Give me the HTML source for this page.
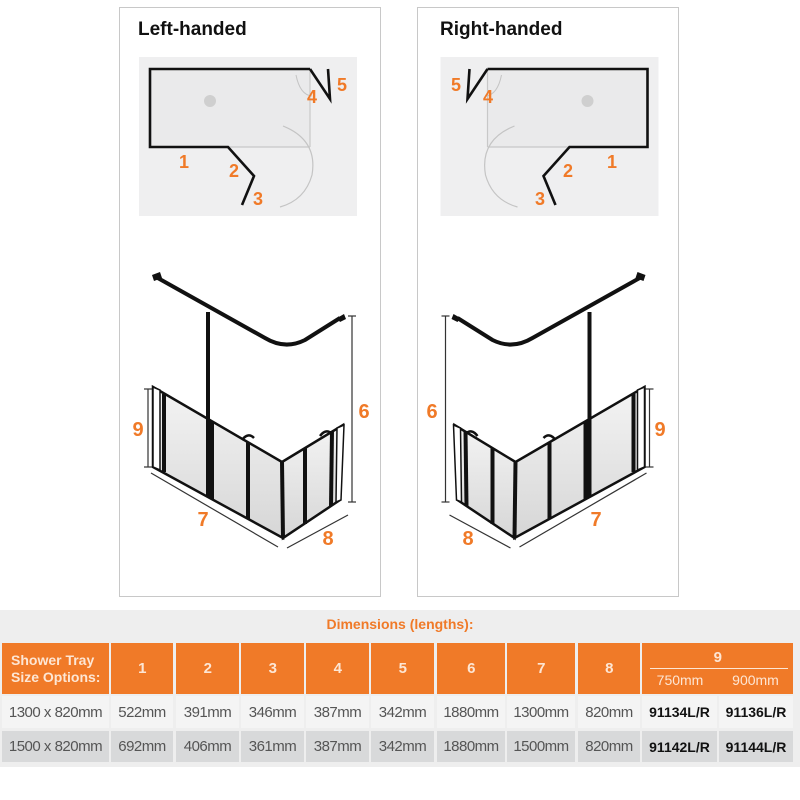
<!DOCTYPE html>
<html><head><meta charset="utf-8"><style>
*{margin:0;padding:0;box-sizing:border-box}
body{width:800px;height:800px;background:#fff;position:relative;font-family:"Liberation Sans",sans-serif;overflow:hidden}
.panel{position:absolute;top:7px;width:262px;height:590px;border:1.5px solid #c8c8c8;background:#fff}
.title{position:absolute;font-size:19px;font-weight:bold;color:#111;top:19px}
.band{position:absolute;left:0;top:610px;width:800px;height:157px;background:#eeeeee}
.c{position:absolute;display:flex;align-items:center;justify-content:center;font-size:15px;letter-spacing:-0.5px}
.h{background:#f07a28;color:#fde6d4;font-weight:bold}
.r1{background:#f4f4f4;color:#555}
.r2{background:#d8d9da;color:#555}
.b{font-weight:bold;color:#111}
</style></head><body>
<div class="panel" style="left:119px"></div>
<div class="panel" style="left:417px"></div>
<div class="title" style="left:138px">Left-handed</div>
<div class="title" style="left:440px">Right-handed</div>

<svg width="800" height="600" style="position:absolute;left:0;top:0" xmlns="http://www.w3.org/2000/svg">
<defs>
<linearGradient id="gl" x1="0" y1="0" x2="0" y2="1"><stop offset="0" stop-color="#f4f4f4"/><stop offset="1" stop-color="#d6d6d6"/></linearGradient>
<g id="plan">
<rect x="139" y="57" width="218" height="159" fill="#efeff0"/>
<rect x="150" y="69" width="160" height="78" fill="#eaeaeb"/>
<line x1="310" y1="69" x2="310" y2="147" stroke="#c8c8c8" stroke-width="1.2"/>
<line x1="228" y1="147" x2="310" y2="147" stroke="#c8c8c8" stroke-width="1.2"/>
<path d="M283 126 Q318 140 312 175 Q305 200 280 207" fill="none" stroke="#c4c4c4" stroke-width="1.2"/>
<path d="M296 75 Q300 95 312 96" fill="none" stroke="#c4c4c4" stroke-width="1"/>
<circle cx="210" cy="101" r="6" fill="#cfcfcf"/>
<polyline points="310,69 150,69 150,147 228,147 254,176 242,205" fill="none" stroke="#111" stroke-width="2.6"/>
<polyline points="310,69 330,99 328,69" fill="none" stroke="#111" stroke-width="2.6"/>
</g>
<g id="iso">
<!-- long wall -->
<polygon points="153,387 282,462 283,538 153,467" fill="url(#gl)" stroke="#111" stroke-width="2.5"/>
<polygon points="282,462 343,425 340,500 283,538" fill="url(#gl)" stroke="#111" stroke-width="2.5"/>
<polygon points="153,387 160,390 160,470 153,467" fill="#fff" stroke="#111" stroke-width="1.5"/>
<polygon points="337,428 344,425 341,500 336,502" fill="#fff" stroke="#111" stroke-width="1.5"/>
<g stroke="#111" stroke-width="4">
<line x1="164" y1="394" x2="164" y2="472"/>
<line x1="208" y1="419" x2="208" y2="497"/>
<line x1="212" y1="421" x2="212" y2="499"/>
<line x1="248" y1="442" x2="248" y2="519"/>
<line x1="282" y1="462" x2="283" y2="538"/>
<line x1="305" y1="448" x2="305" y2="524"/>
<line x1="332" y1="431" x2="331" y2="506"/>
</g>
<path d="M242 440 q6 -8 12 -2 M320 436 q6 -8 12 -2" stroke="#111" stroke-width="2.5" fill="none"/>
<!-- rail -->
<line x1="208" y1="312" x2="208" y2="420" stroke="#111" stroke-width="4"/>
<path d="M156 277 L265 338 Q285 350 305 340 L340 318" fill="none" stroke="#111" stroke-width="4"/>
<path d="M152 275 l8 -3 l2 6 l-8 3z M337 318 l7 -4 l2 5 l-6 3z" fill="#111"/>
<!-- dims -->
<g stroke="#333" stroke-width="1.2" fill="none">
<line x1="148" y1="389" x2="148" y2="467"/><line x1="144" y1="389" x2="152" y2="389"/><line x1="144" y1="467" x2="152" y2="467"/>
<line x1="352" y1="316" x2="352" y2="502"/><line x1="348" y1="316" x2="356" y2="316"/><line x1="348" y1="502" x2="356" y2="502"/>
<line x1="151" y1="473" x2="278" y2="547"/>
<line x1="287" y1="548" x2="348" y2="515"/>
</g>
</g>
</defs>
<use href="#plan"/>
<use href="#plan" transform="translate(797.5,0) scale(-1,1)"/>
<use href="#iso"/>
<use href="#iso" transform="translate(797.5,0) scale(-1,1)"/>
<g fill="#f07a28" font-family="Liberation Sans,sans-serif" font-weight="bold" font-size="18" text-anchor="middle">
<text x="184" y="168">1</text><text x="234" y="177">2</text><text x="258" y="205">3</text><text x="312" y="103">4</text><text x="342" y="91">5</text>
<text x="612" y="168">1</text><text x="568" y="177">2</text><text x="540" y="205">3</text><text x="488" y="103">4</text><text x="456" y="91">5</text>
<g font-size="20">
<text x="138" y="436">9</text><text x="364" y="418">6</text><text x="203" y="526">7</text><text x="328" y="545">8</text>
<text x="660" y="436">9</text><text x="432" y="418">6</text><text x="596" y="526">7</text><text x="468" y="545">8</text>
</g></g>
</svg>

<div class="band"></div>
<div class="c" style="left:300px;top:614px;width:200px;height:20px;color:#f07a28;font-weight:bold;font-size:14px;letter-spacing:0">Dimensions (lengths):</div>

<div class="c h" style="left:2px;top:643px;width:107px;height:51px;justify-content:flex-start;padding-left:9px;line-height:17px;font-size:14px;letter-spacing:0">Shower Tray<br>Size Options:</div>
<div class="c h" style="left:111px;top:643px;width:62px;height:51px">1</div>
<div class="c h" style="left:176px;top:643px;width:63px;height:51px">2</div>
<div class="c h" style="left:241px;top:643px;width:63px;height:51px">3</div>
<div class="c h" style="left:306px;top:643px;width:63px;height:51px">4</div>
<div class="c h" style="left:371px;top:643px;width:63px;height:51px">5</div>
<div class="c h" style="left:437px;top:643px;width:68px;height:51px">6</div>
<div class="c h" style="left:507px;top:643px;width:68px;height:51px">7</div>
<div class="c h" style="left:578px;top:643px;width:62px;height:51px">8</div>
<div class="c h" style="left:642px;top:643px;width:151px;height:51px"></div>
<div class="c" style="left:642px;top:648px;width:151px;height:18px;color:#fde6d4;font-weight:bold;font-size:15px">9</div>
<div style="position:absolute;left:650px;top:668px;width:138px;height:1px;background:#fde6d4"></div>
<div class="c" style="left:642px;top:671px;width:76px;height:18px;color:#fde6d4;font-size:14px;letter-spacing:0">750mm</div>
<div class="c" style="left:718px;top:671px;width:75px;height:18px;color:#fde6d4;font-size:14px;letter-spacing:0">900mm</div>

<div class="c r1" style="left:2px;top:696px;width:107px;height:32px">1300 x 820mm</div>
<div class="c r1" style="left:111px;top:696px;width:62px;height:32px">522mm</div>
<div class="c r1" style="left:176px;top:696px;width:63px;height:32px">391mm</div>
<div class="c r1" style="left:241px;top:696px;width:63px;height:32px">346mm</div>
<div class="c r1" style="left:306px;top:696px;width:63px;height:32px">387mm</div>
<div class="c r1" style="left:371px;top:696px;width:63px;height:32px">342mm</div>
<div class="c r1" style="left:437px;top:696px;width:68px;height:32px">1880mm</div>
<div class="c r1" style="left:507px;top:696px;width:68px;height:32px">1300mm</div>
<div class="c r1" style="left:578px;top:696px;width:62px;height:32px">820mm</div>
<div class="c r1 b" style="left:642px;top:696px;width:75px;height:32px;font-size:14px;letter-spacing:0">91134L/R</div>
<div class="c r1 b" style="left:719px;top:696px;width:74px;height:32px;font-size:14px;letter-spacing:0">91136L/R</div>

<div class="c r2" style="left:2px;top:731px;width:107px;height:31px">1500 x 820mm</div>
<div class="c r2" style="left:111px;top:731px;width:62px;height:31px">692mm</div>
<div class="c r2" style="left:176px;top:731px;width:63px;height:31px">406mm</div>
<div class="c r2" style="left:241px;top:731px;width:63px;height:31px">361mm</div>
<div class="c r2" style="left:306px;top:731px;width:63px;height:31px">387mm</div>
<div class="c r2" style="left:371px;top:731px;width:63px;height:31px">342mm</div>
<div class="c r2" style="left:437px;top:731px;width:68px;height:31px">1880mm</div>
<div class="c r2" style="left:507px;top:731px;width:68px;height:31px">1500mm</div>
<div class="c r2" style="left:578px;top:731px;width:62px;height:31px">820mm</div>
<div class="c r2 b" style="left:642px;top:731px;width:75px;height:31px;font-size:14px;letter-spacing:0">91142L/R</div>
<div class="c r2 b" style="left:719px;top:731px;width:74px;height:31px;font-size:14px;letter-spacing:0">91144L/R</div>
</body></html>
